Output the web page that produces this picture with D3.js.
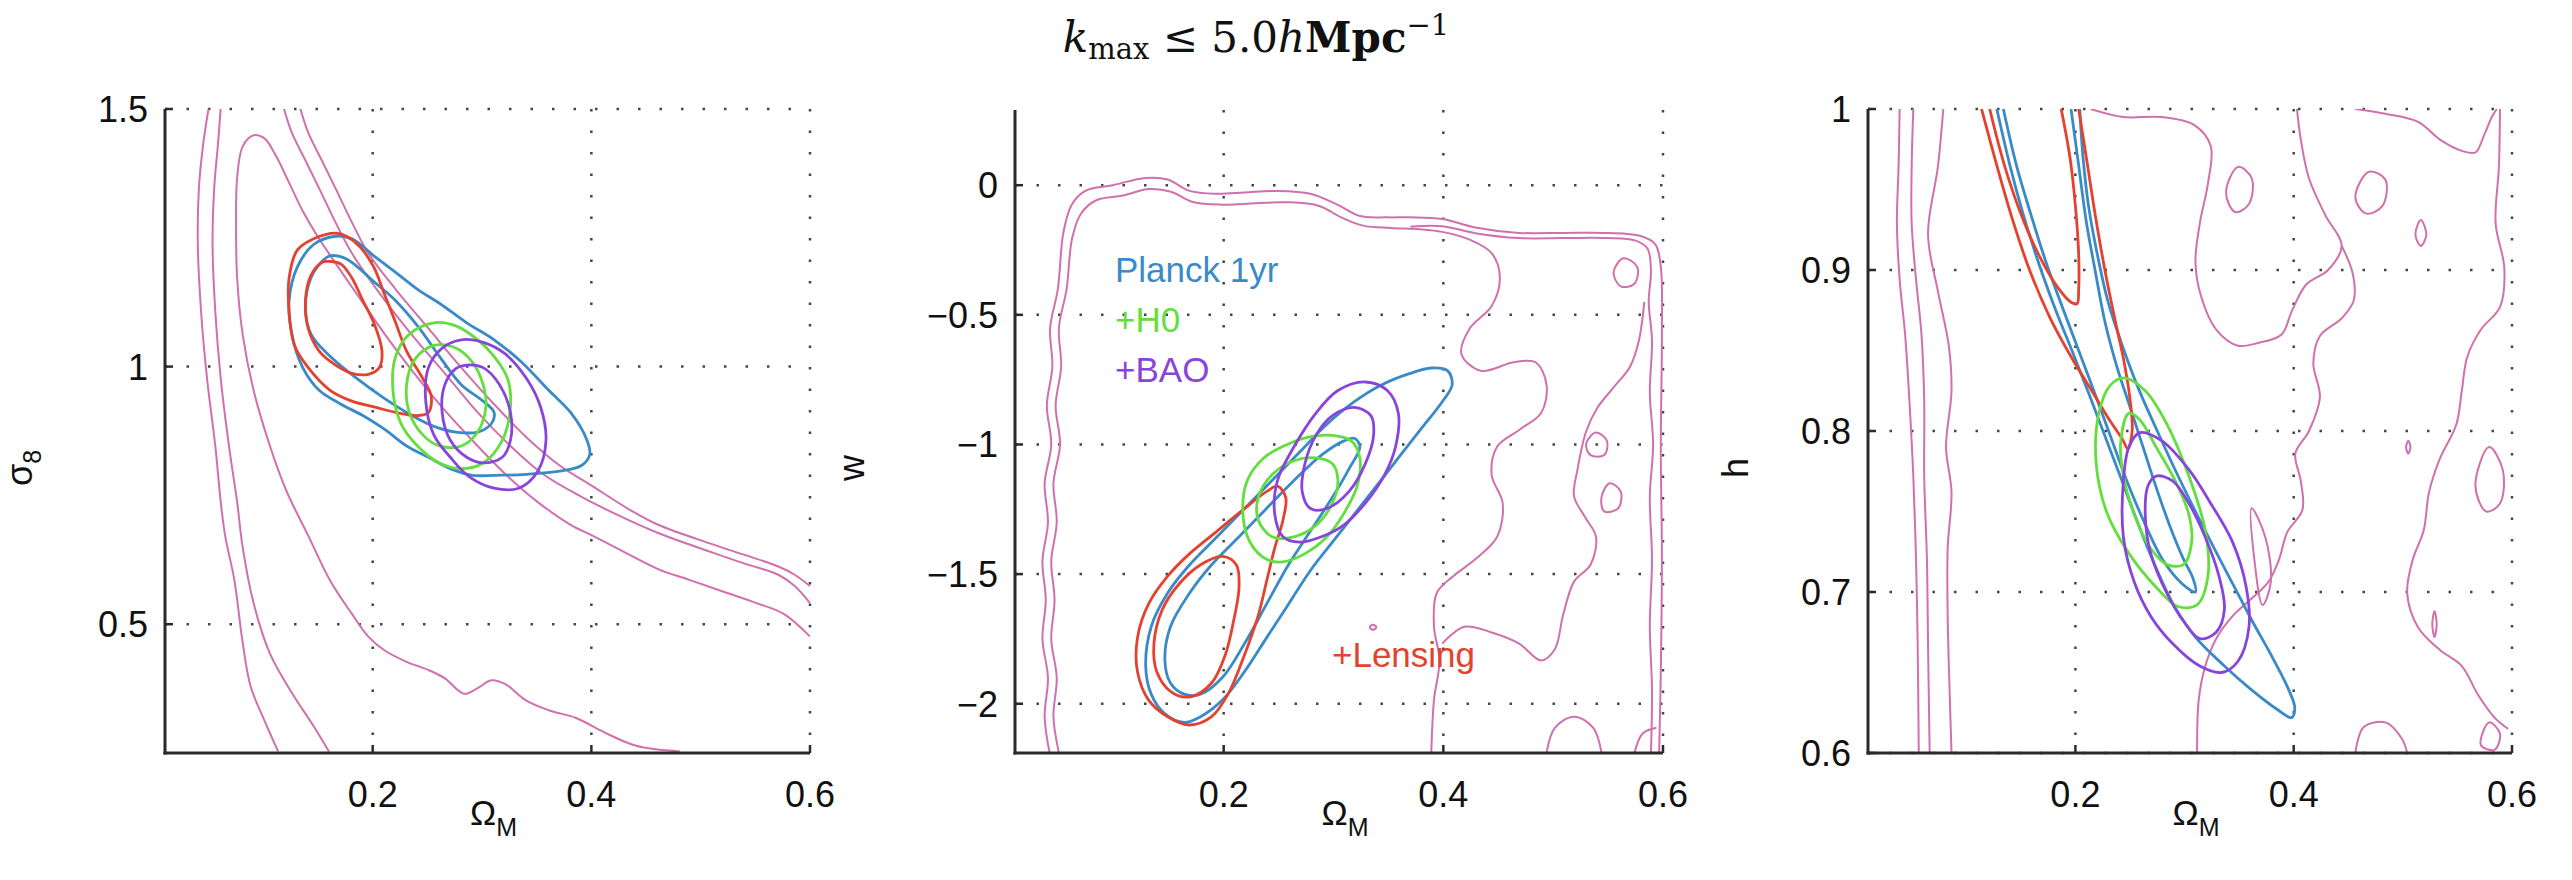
<!DOCTYPE html>
<html>
<head>
<meta charset="utf-8">
<script src="https://cdn.jsdelivr.net/npm/d3@7"></script>
<style>
  body { margin: 0; background: #fff; }
  text { font-family: "Liberation Sans", Arial, sans-serif; fill: #111; }
</style>
</head>
<body>
<svg id="chart" width="2572" height="880"></svg>
<script>
// Shared x axis
const omegaTicks = [0.2, 0.4, 0.6];

// Panel 1: sigma_8 vs Omega_M
const sigma8Ticks = [0.5, 1, 1.5];
const s8PinkA = [[0.05,1.503],[0.045,1.433],[0.041,1.346],[0.04,1.237],[0.043,1.107],[0.0485,0.976],[0.056,0.846],[0.061,0.737],[0.065,0.672],[0.0735,0.585],[0.081,0.465],[0.0885,0.378],[0.101,0.313],[0.1135,0.253]];
const s8PinkB = [[0.061,1.503],[0.0585,1.433],[0.055,1.346],[0.0535,1.237],[0.056,1.107],[0.061,0.976],[0.0685,0.846],[0.076,0.737],[0.081,0.65],[0.091,0.541],[0.106,0.443],[0.126,0.367],[0.146,0.302],[0.16,0.253]];
const s8PinkC = [[0.1335,1.503],[0.141,1.454],[0.1535,1.4],[0.166,1.346],[0.181,1.28],[0.196,1.22],[0.221,1.15],[0.251,1.074],[0.281,0.998],[0.311,0.927],[0.341,0.862],[0.371,0.808],[0.3995,0.77],[0.436,0.721],[0.461,0.693],[0.511,0.655],[0.541,0.634],[0.571,0.612],[0.586,0.596],[0.6,0.574]];
const s8PinkD = [[0.1185,1.503],[0.126,1.454],[0.1385,1.4],[0.151,1.346],[0.166,1.28],[0.181,1.22],[0.206,1.143],[0.236,1.061],[0.266,0.987],[0.296,0.911],[0.326,0.846],[0.356,0.791],[0.386,0.753],[0.421,0.715],[0.461,0.677],[0.511,0.639],[0.541,0.617],[0.571,0.596],[0.586,0.574],[0.6,0.541]];
const s8PinkInner = [[0.481,0.253],[0.441,0.264],[0.411,0.291],[0.386,0.318],[0.361,0.333],[0.341,0.351],[0.321,0.384],[0.3085,0.391],[0.296,0.376],[0.2835,0.365],[0.266,0.395],[0.251,0.411],[0.231,0.427],[0.211,0.449],[0.196,0.476],[0.181,0.52],[0.161,0.585],[0.141,0.672],[0.121,0.759],[0.106,0.846],[0.091,0.954],[0.081,1.063],[0.076,1.172],[0.075,1.28],[0.076,1.367],[0.081,1.427],[0.091,1.449],[0.101,1.443],[0.111,1.411],[0.1235,1.357],[0.136,1.302],[0.151,1.248],[0.1685,1.193],[0.186,1.139],[0.211,1.063],[0.236,0.992],[0.261,0.927],[0.291,0.857],[0.321,0.792],[0.351,0.737],[0.381,0.693],[0.401,0.672],[0.431,0.639],[0.461,0.607],[0.491,0.585],[0.521,0.563],[0.551,0.541],[0.576,0.52],[0.6,0.476]];
const s8BlueOuter = [[0.166,1.253],[0.181,1.248],[0.201,1.215],[0.221,1.183],[0.241,1.15],[0.261,1.123],[0.286,1.085],[0.311,1.052],[0.336,1.009],[0.361,0.954],[0.381,0.911],[0.396,0.857],[0.3985,0.829],[0.391,0.808],[0.371,0.797],[0.341,0.791],[0.311,0.789],[0.291,0.789],[0.271,0.802],[0.251,0.824],[0.231,0.846],[0.211,0.878],[0.191,0.905],[0.171,0.927],[0.151,0.954],[0.136,0.998],[0.126,1.063],[0.1235,1.128],[0.131,1.193],[0.146,1.237]];
const s8BlueInner = [[0.161,1.215],[0.176,1.209],[0.201,1.165],[0.221,1.128],[0.241,1.079],[0.261,1.02],[0.281,0.965],[0.301,0.933],[0.311,0.911],[0.3085,0.889],[0.296,0.873],[0.276,0.873],[0.256,0.884],[0.236,0.905],[0.211,0.938],[0.186,0.976],[0.161,1.02],[0.1435,1.063],[0.1385,1.117],[0.1435,1.172],[0.1535,1.204]];
const s8RedOuter = [[0.166,1.259],[0.176,1.253],[0.1885,1.232],[0.201,1.193],[0.211,1.139],[0.221,1.085],[0.231,1.03],[0.246,0.976],[0.2535,0.943],[0.251,0.911],[0.241,0.905],[0.221,0.911],[0.201,0.922],[0.181,0.933],[0.161,0.954],[0.141,0.998],[0.1285,1.041],[0.1235,1.107],[0.1235,1.172],[0.131,1.226],[0.146,1.248]];
const s8RedInner = [[0.161,1.204],[0.171,1.199],[0.181,1.172],[0.191,1.128],[0.201,1.085],[0.2085,1.03],[0.206,0.998],[0.196,0.985],[0.181,0.987],[0.166,1.003],[0.151,1.03],[0.141,1.074],[0.1385,1.128],[0.1435,1.177],[0.1535,1.202]];
const s8GreenOuter = [[0.256,1.085],[0.276,1.079],[0.296,1.052],[0.311,1.02],[0.3235,0.976],[0.326,0.922],[0.3185,0.857],[0.301,0.813],[0.281,0.802],[0.261,0.813],[0.241,0.846],[0.226,0.889],[0.2185,0.954],[0.221,1.02],[0.2335,1.063]];
const s8GreenInner = [[0.256,1.041],[0.276,1.036],[0.291,1.009],[0.301,0.965],[0.3035,0.922],[0.296,0.873],[0.281,0.846],[0.261,0.846],[0.246,0.867],[0.2335,0.911],[0.231,0.965],[0.2385,1.014]];
const s8PurpleOuter = [[0.281,1.052],[0.301,1.047],[0.321,1.025],[0.341,0.976],[0.3535,0.922],[0.3585,0.857],[0.351,0.797],[0.3335,0.764],[0.311,0.764],[0.2885,0.786],[0.271,0.824],[0.256,0.867],[0.2485,0.933],[0.251,0.998],[0.2635,1.036]];
const s8PurpleInner = [[0.286,1.003],[0.301,0.998],[0.316,0.965],[0.326,0.911],[0.326,0.857],[0.3185,0.824],[0.301,0.813],[0.286,0.824],[0.271,0.857],[0.2635,0.911],[0.266,0.965],[0.276,0.996]];

// Panel 2: w vs Omega_M
const wTicks = [-2, -1.5, -1, -0.5, 0];
const wPinkOuter = [[0.0415,-2.19],[0.037,-2.05],[0.04,-1.9],[0.035,-1.75],[0.038,-1.6],[0.035,-1.45],[0.04,-1.3],[0.037,-1.15],[0.043,-1.0],[0.039,-0.85],[0.044,-0.7],[0.042,-0.55],[0.049,-0.401],[0.054,-0.184],[0.0615,-0.076],[0.074,-0.022],[0.099,0.0],[0.129,0.028],[0.149,0.022],[0.169,-0.022],[0.194,-0.033],[0.219,-0.028],[0.249,-0.022],[0.279,-0.033],[0.304,-0.076],[0.324,-0.119],[0.349,-0.124],[0.369,-0.124],[0.399,-0.13],[0.429,-0.163],[0.469,-0.184],[0.509,-0.184],[0.549,-0.184],[0.579,-0.195],[0.593,-0.228],[0.598,-0.315],[0.599,-0.575],[0.598,-1.009],[0.599,-1.443],[0.598,-1.876],[0.5965,-2.19]];
const wPinkMiddle = [[0.37,-0.16],[0.399,-0.158],[0.429,-0.185],[0.469,-0.204],[0.509,-0.204],[0.549,-0.204],[0.575,-0.214],[0.586,-0.245],[0.589,-0.33],[0.587,-0.45],[0.59,-0.6],[0.588,-0.8],[0.591,-1.0],[0.588,-1.2],[0.59,-1.443],[0.588,-1.7],[0.59,-1.95],[0.589,-2.19]];
const wPinkInner = [[0.05,-2.19],[0.045,-2.05],[0.048,-1.9],[0.043,-1.75],[0.046,-1.6],[0.043,-1.45],[0.048,-1.3],[0.045,-1.15],[0.051,-1.0],[0.047,-0.85],[0.052,-0.7],[0.05,-0.55],[0.057,-0.401],[0.062,-0.205],[0.07,-0.11],[0.084,-0.058],[0.108,-0.04],[0.132,-0.015],[0.152,-0.025],[0.172,-0.065],[0.199,-0.075],[0.229,-0.07],[0.259,-0.066],[0.287,-0.08],[0.307,-0.124],[0.327,-0.156],[0.352,-0.165],[0.379,-0.17],[0.399,-0.18],[0.424,-0.21],[0.444,-0.262],[0.4515,-0.358],[0.444,-0.466],[0.424,-0.553],[0.4165,-0.651],[0.434,-0.716],[0.464,-0.683],[0.484,-0.683],[0.494,-0.77],[0.489,-0.879],[0.469,-0.944],[0.449,-1.009],[0.444,-1.117],[0.454,-1.226],[0.449,-1.356],[0.429,-1.443],[0.409,-1.508],[0.394,-1.573],[0.3915,-1.703],[0.3965,-1.833],[0.3915,-1.985],[0.389,-2.19]];
const wPinkLow = [[0.399,-1.768],[0.419,-1.703],[0.444,-1.725],[0.469,-1.768],[0.489,-1.833],[0.5015,-1.79],[0.509,-1.659],[0.519,-1.529],[0.534,-1.464],[0.539,-1.356],[0.529,-1.28],[0.519,-1.2],[0.522,-1.1],[0.53,-0.95],[0.54,-0.86],[0.555,-0.78],[0.57,-0.7],[0.578,-0.6],[0.583,-0.45]];
const wPinkBump1 = [[0.494,-2.19],[0.5015,-2.093],[0.519,-2.05],[0.5365,-2.093],[0.544,-2.19]];
const wPinkBump2 = [[0.574,-2.19],[0.5815,-2.115],[0.594,-2.093]];
const wPinkIsle1 = [[0.564,-0.282],[0.5765,-0.315],[0.574,-0.38],[0.5615,-0.39],[0.555,-0.336]];
const wPinkIsle2 = [[0.539,-0.954],[0.549,-0.987],[0.5465,-1.041],[0.534,-1.041],[0.53,-0.998]];
const wPinkIsle3 = [[0.5515,-1.15],[0.5615,-1.182],[0.559,-1.247],[0.5465,-1.258],[0.544,-1.204]];
const wPinkDot = [[0.336,-1.695],[0.339,-1.705],[0.336,-1.715],[0.333,-1.705]];
const wBlueOuter = [[0.389,-0.705],[0.404,-0.716],[0.408,-0.77],[0.399,-0.835],[0.379,-0.944],[0.359,-1.052],[0.339,-1.161],[0.319,-1.269],[0.299,-1.377],[0.279,-1.486],[0.259,-1.616],[0.239,-1.746],[0.219,-1.876],[0.199,-1.985],[0.179,-2.05],[0.164,-2.072],[0.1465,-2.039],[0.134,-1.963],[0.129,-1.855],[0.134,-1.703],[0.149,-1.573],[0.169,-1.464],[0.194,-1.356],[0.219,-1.247],[0.244,-1.139],[0.269,-1.03],[0.294,-0.922],[0.319,-0.835],[0.344,-0.77],[0.369,-0.727]];
const wBlueInner = [[0.319,-0.976],[0.324,-1.009],[0.314,-1.095],[0.299,-1.204],[0.279,-1.334],[0.259,-1.464],[0.239,-1.616],[0.219,-1.768],[0.199,-1.898],[0.179,-1.963],[0.164,-1.963],[0.1515,-1.92],[0.1465,-1.833],[0.1515,-1.703],[0.169,-1.573],[0.189,-1.464],[0.214,-1.356],[0.239,-1.247],[0.264,-1.139],[0.289,-1.041],[0.309,-0.987]];
const wRedOuter = [[0.249,-1.161],[0.2565,-1.204],[0.254,-1.291],[0.2465,-1.399],[0.239,-1.529],[0.2315,-1.659],[0.219,-1.811],[0.204,-1.963],[0.189,-2.05],[0.169,-2.082],[0.149,-2.05],[0.1315,-1.985],[0.1215,-1.876],[0.1215,-1.746],[0.1315,-1.616],[0.149,-1.508],[0.169,-1.421],[0.194,-1.334],[0.219,-1.247],[0.239,-1.182]];
const wRedInner = [[0.199,-1.432],[0.2115,-1.464],[0.214,-1.551],[0.209,-1.681],[0.2015,-1.811],[0.189,-1.92],[0.169,-1.974],[0.1515,-1.952],[0.139,-1.876],[0.1365,-1.768],[0.144,-1.638],[0.159,-1.54],[0.179,-1.464]];
const wGreenOuter = [[0.299,-0.965],[0.3165,-0.987],[0.324,-1.052],[0.3215,-1.161],[0.309,-1.269],[0.294,-1.356],[0.274,-1.421],[0.254,-1.453],[0.239,-1.443],[0.224,-1.377],[0.2175,-1.269],[0.2215,-1.139],[0.2365,-1.052],[0.259,-0.998],[0.279,-0.97]];
const wGreenInner = [[0.284,-1.052],[0.299,-1.074],[0.304,-1.139],[0.299,-1.226],[0.284,-1.312],[0.264,-1.356],[0.244,-1.356],[0.2315,-1.291],[0.2315,-1.204],[0.244,-1.117],[0.264,-1.063]];
const wPurpleOuter = [[0.329,-0.759],[0.349,-0.792],[0.359,-0.879],[0.3565,-1.009],[0.3465,-1.117],[0.329,-1.226],[0.309,-1.312],[0.289,-1.356],[0.269,-1.377],[0.254,-1.356],[0.2465,-1.269],[0.249,-1.139],[0.264,-1.009],[0.284,-0.879],[0.304,-0.792]];
const wPurpleInner = [[0.319,-0.857],[0.334,-0.889],[0.3365,-0.965],[0.329,-1.074],[0.314,-1.182],[0.294,-1.247],[0.279,-1.247],[0.2715,-1.182],[0.274,-1.074],[0.284,-0.965],[0.299,-0.889]];

// Panel 3: h vs Omega_M
const hTicks = [0.6, 0.7, 0.8, 0.9, 1];
const hPinkL1 = [[0.039,1.0],[0.038,0.964],[0.0365,0.929],[0.039,0.894],[0.044,0.86],[0.048,0.818],[0.0515,0.772],[0.054,0.72],[0.0555,0.668],[0.0565,0.6]];
const hPinkL2 = [[0.0515,1.0],[0.05,0.964],[0.05,0.929],[0.054,0.894],[0.059,0.86],[0.0615,0.818],[0.0615,0.772],[0.064,0.72],[0.065,0.668],[0.0665,0.6]];
const hPinkL3 = [[0.079,1.0],[0.074,0.964],[0.065,0.922],[0.074,0.887],[0.084,0.853],[0.0865,0.825],[0.0815,0.79],[0.0865,0.762],[0.083,0.727],[0.083,0.685],[0.085,0.633],[0.0865,0.6]];
const hPinkTop = [[0.214,1.0],[0.244,0.995],[0.279,0.995],[0.309,0.99],[0.324,0.977],[0.3215,0.954],[0.314,0.929],[0.31,0.905],[0.315,0.884],[0.329,0.863],[0.349,0.853],[0.369,0.855],[0.389,0.86],[0.398,0.874],[0.4115,0.891],[0.4315,0.9],[0.444,0.915],[0.429,0.934],[0.414,0.957],[0.4065,0.981],[0.403,1.0]];
const hPinkMid = [[0.444,0.915],[0.454,0.898],[0.455,0.881],[0.444,0.87],[0.424,0.859],[0.418,0.842],[0.424,0.821],[0.414,0.8],[0.4015,0.786],[0.4065,0.769],[0.408,0.751],[0.394,0.737],[0.3865,0.72],[0.3765,0.706],[0.3615,0.696],[0.344,0.685],[0.329,0.671],[0.319,0.654],[0.313,0.633],[0.3115,0.6]];
const hPinkTopRight = [[0.4565,1.0],[0.484,0.997],[0.514,0.992],[0.534,0.981],[0.554,0.974],[0.5665,0.973],[0.574,0.983],[0.5815,0.995],[0.586,1.0]];
const hPinkRight = [[0.589,1.0],[0.588,0.964],[0.585,0.929],[0.593,0.901],[0.589,0.877],[0.5715,0.863],[0.559,0.846],[0.554,0.825],[0.549,0.804],[0.534,0.783],[0.524,0.762],[0.519,0.738],[0.509,0.72],[0.504,0.699],[0.514,0.678],[0.534,0.664],[0.554,0.654],[0.569,0.636],[0.584,0.622],[0.5965,0.615]];
const hPinkBump = [[0.4565,0.6],[0.464,0.616],[0.484,0.619],[0.499,0.609],[0.504,0.6]];
const hPinkIsle1 = [[0.349,0.964],[0.3615,0.957],[0.359,0.941],[0.3465,0.936],[0.338,0.948]];
const hPinkIsle2 = [[0.469,0.961],[0.484,0.956],[0.4815,0.94],[0.4665,0.935],[0.4565,0.945]];
const hPinkIsle3 = [[0.5165,0.931],[0.5215,0.922],[0.5165,0.915],[0.5115,0.922]];
const hPinkIsle4 = [[0.579,0.79],[0.5915,0.776],[0.589,0.755],[0.5765,0.75],[0.5665,0.766]];
const hPinkIsle5 = [[0.579,0.619],[0.589,0.612],[0.584,0.602],[0.5715,0.605]];
const hPinkIsle6 = [[0.3615,0.752],[0.374,0.734],[0.379,0.706],[0.3715,0.692],[0.364,0.72]];
const hPinkDot1 = [[0.505,0.794],[0.507,0.79],[0.505,0.786],[0.503,0.79]];
const hPinkDot2 = [[0.529,0.688],[0.531,0.68],[0.529,0.672],[0.527,0.68]];
const hRedOuter = [[0.114,1.0],[0.128,0.965],[0.143,0.93],[0.158,0.9],[0.177,0.87],[0.197,0.845],[0.215,0.825],[0.232,0.806],[0.243,0.795],[0.248,0.789],[0.252,0.8],[0.25,0.82],[0.244,0.845],[0.236,0.87],[0.227,0.9],[0.218,0.935],[0.21,0.97],[0.203,1.0]];
const hRedInner = [[0.1215,1.0],[0.135,0.965],[0.15,0.935],[0.166,0.91],[0.183,0.89],[0.196,0.88],[0.2015,0.879],[0.203,0.888],[0.203,0.91],[0.2,0.94],[0.195,0.97],[0.187,1.0]];
const hBlueOuter = [[0.128,1.0],[0.14,0.965],[0.152,0.935],[0.166,0.905],[0.182,0.875],[0.198,0.848],[0.213,0.822],[0.227,0.797],[0.241,0.772],[0.256,0.745],[0.272,0.718],[0.29,0.692],[0.31,0.672],[0.335,0.655],[0.36,0.64],[0.385,0.627],[0.398,0.622],[0.401,0.628],[0.395,0.64],[0.38,0.66],[0.362,0.682],[0.345,0.704],[0.328,0.726],[0.31,0.75],[0.292,0.775],[0.275,0.8],[0.258,0.826],[0.243,0.853],[0.23,0.88],[0.22,0.91],[0.212,0.94],[0.207,0.97],[0.204,1.0]];
const hBlueInner = [[0.134,1.0],[0.146,0.965],[0.159,0.935],[0.173,0.905],[0.188,0.877],[0.203,0.85],[0.218,0.823],[0.232,0.797],[0.246,0.771],[0.262,0.745],[0.28,0.72],[0.298,0.705],[0.31,0.7],[0.308,0.708],[0.298,0.722],[0.286,0.742],[0.274,0.765],[0.262,0.79],[0.25,0.815],[0.238,0.84],[0.227,0.868],[0.218,0.9],[0.21,0.93],[0.203,0.965],[0.196,1.0]];
const hGreenOuter = [[0.244,0.833],[0.264,0.825],[0.284,0.804],[0.304,0.772],[0.319,0.738],[0.3215,0.71],[0.3115,0.692],[0.294,0.691],[0.274,0.703],[0.249,0.724],[0.229,0.749],[0.219,0.78],[0.2215,0.811],[0.2315,0.828]];
const hGreenInner = [[0.249,0.811],[0.259,0.807],[0.274,0.79],[0.2915,0.769],[0.304,0.748],[0.3065,0.731],[0.299,0.717],[0.284,0.717],[0.269,0.727],[0.254,0.748],[0.244,0.772],[0.2415,0.793]];
const hPurpleOuter = [[0.259,0.799],[0.279,0.794],[0.304,0.776],[0.324,0.755],[0.344,0.731],[0.3565,0.703],[0.359,0.678],[0.349,0.657],[0.334,0.65],[0.314,0.654],[0.289,0.668],[0.269,0.685],[0.254,0.706],[0.244,0.734],[0.244,0.769],[0.249,0.79]];
const hPurpleInner = [[0.274,0.772],[0.289,0.769],[0.304,0.755],[0.319,0.734],[0.3315,0.71],[0.3365,0.689],[0.329,0.675],[0.314,0.671],[0.299,0.682],[0.284,0.699],[0.269,0.724],[0.264,0.748],[0.2665,0.766]];

// Legend labels
const legendItems = [
  { label: 'Planck 1yr', color: 'blue' },
  { label: '+H0', color: 'green' },
  { label: '+BAO', color: 'purple' },
];
const lensingLabel = '+Lensing';

const colors = {
  pink: '#d070ae',
  blue: '#3a8ac8',
  red: '#e4422f',
  green: '#62df3c',
  purple: '#8845dc',
};

const svg = d3.select('#chart');

// Each panel: box, y range and the contours drawn into it
const panels = [
  {
    left: 165, right: 810, top: 109, bottom: 753,
    yDomain: [0.25, 1.5], yTicks: sigma8Ticks, yFormat: d => String(d),
    yLabel: ['σ', '8'], yLabelX: 32,
    lines: [
      [s8PinkA, 'pink'], [s8PinkB, 'pink'], [s8PinkC, 'pink'], [s8PinkD, 'pink'], [s8PinkInner, 'pink'],
    ],
    loops: [
      [s8BlueOuter, 'blue'], [s8BlueInner, 'blue'], [s8RedOuter, 'red'], [s8RedInner, 'red'],
      [s8GreenOuter, 'green'], [s8GreenInner, 'green'], [s8PurpleOuter, 'purple'], [s8PurpleInner, 'purple'],
    ],
  },
  {
    left: 1015, right: 1663, top: 110, bottom: 753,
    yDomain: [-2.19, 0.29], yTicks: wTicks, yFormat: d => (d < 0 ? '\u2212' + Math.abs(d) : String(d)),
    yLabel: ['w', ''], yLabelX: 864,
    lines: [
      [wPinkOuter, 'pink'], [wPinkMiddle, 'pink'], [wPinkInner, 'pink'], [wPinkLow, 'pink'],
      [wPinkBump1, 'pink'], [wPinkBump2, 'pink'],
    ],
    loops: [
      [wPinkIsle1, 'pink'], [wPinkIsle2, 'pink'], [wPinkIsle3, 'pink'], [wPinkDot, 'pink'],
      [wBlueOuter, 'blue'], [wBlueInner, 'blue'], [wRedOuter, 'red'], [wRedInner, 'red'],
      [wGreenOuter, 'green'], [wGreenInner, 'green'], [wPurpleOuter, 'purple'], [wPurpleInner, 'purple'],
    ],
  },
  {
    left: 1868, right: 2512, top: 109, bottom: 753,
    yDomain: [0.6, 1.0], yTicks: hTicks, yFormat: d => String(d),
    yLabel: ['h', ''], yLabelX: 1748,
    lines: [
      [hPinkL1, 'pink'], [hPinkL2, 'pink'], [hPinkL3, 'pink'], [hPinkTop, 'pink'], [hPinkMid, 'pink'],
      [hPinkTopRight, 'pink'], [hPinkRight, 'pink'], [hPinkBump, 'pink'],
      [hBlueOuter, 'blue'], [hBlueInner, 'blue'], [hRedOuter, 'red'], [hRedInner, 'red'],
    ],
    loops: [
      [hPinkIsle1, 'pink'], [hPinkIsle2, 'pink'], [hPinkIsle3, 'pink'], [hPinkIsle4, 'pink'],
      [hPinkIsle5, 'pink'], [hPinkIsle6, 'pink'], [hPinkDot1, 'pink'], [hPinkDot2, 'pink'],
      [hGreenOuter, 'green'], [hGreenInner, 'green'], [hPurpleOuter, 'purple'], [hPurpleInner, 'purple'],
    ],
  },
];

const tickFont = 36;

panels.forEach((p, i) => {
  const x = d3.scaleLinear().domain([0.01, 0.6]).range([p.left, p.right]);
  const y = d3.scaleLinear().domain(p.yDomain).range([p.bottom, p.top]);
  const g = svg.append('g');

  // Dotted grid
  g.selectAll('.gx').data(omegaTicks).join('line')
    .attr('x1', d => x(d)).attr('x2', d => x(d))
    .attr('y1', p.top).attr('y2', p.bottom)
    .attr('stroke', '#444').attr('stroke-width', 2.5)
    .attr('stroke-dasharray', '2.5,19');
  g.selectAll('.gy').data(p.yTicks).join('line')
    .attr('y1', d => y(d)).attr('y2', d => y(d))
    .attr('x1', p.left).attr('x2', p.right)
    .attr('stroke', '#444').attr('stroke-width', 2.5)
    .attr('stroke-dasharray', '2.5,19');

  // Contours, clipped to the axes box
  const clipId = `clip${i}`;
  svg.append('clipPath').attr('id', clipId).append('rect')
    .attr('x', p.left).attr('y', p.top)
    .attr('width', p.right - p.left).attr('height', p.bottom - p.top);
  const plot = g.append('g').attr('clip-path', `url(#${clipId})`);

  const openLine = d3.line().x(d => x(d[0])).y(d => y(d[1])).curve(d3.curveCatmullRom.alpha(0.5));
  const closedLine = d3.line().x(d => x(d[0])).y(d => y(d[1])).curve(d3.curveCatmullRomClosed.alpha(0.5));

  const drawAll = (list, gen) => list.forEach(([pts, c]) => {
    plot.append('path')
      .attr('d', gen(pts))
      .attr('fill', 'none')
      .attr('stroke', colors[c])
      .attr('stroke-width', c === 'pink' ? 2 : 2.8)
      .attr('stroke-linejoin', 'round');
  });
  // pink first, coloured on top
  drawAll(p.lines.filter(l => l[1] === 'pink'), openLine);
  drawAll(p.loops.filter(l => l[1] === 'pink'), closedLine);
  drawAll(p.lines.filter(l => l[1] !== 'pink'), openLine);
  drawAll(p.loops.filter(l => l[1] !== 'pink'), closedLine);

  // Axes: left and bottom
  g.append('line').attr('x1', p.left).attr('x2', p.left).attr('y1', p.top).attr('y2', p.bottom + 1.5)
    .attr('stroke', '#2a2a2a').attr('stroke-width', 3);
  g.append('line').attr('x1', p.left - 1.5).attr('x2', p.right).attr('y1', p.bottom).attr('y2', p.bottom)
    .attr('stroke', '#2a2a2a').attr('stroke-width', 3);

  // Inward tick marks
  g.selectAll('.tx').data(omegaTicks).join('line')
    .attr('x1', d => x(d)).attr('x2', d => x(d))
    .attr('y1', p.bottom).attr('y2', p.bottom - 8)
    .attr('stroke', '#2a2a2a').attr('stroke-width', 2.5);
  g.selectAll('.ty').data(p.yTicks).join('line')
    .attr('y1', d => y(d)).attr('y2', d => y(d))
    .attr('x1', p.left).attr('x2', p.left + 8)
    .attr('stroke', '#2a2a2a').attr('stroke-width', 2.5);

  // Tick labels
  g.selectAll('.lx').data(omegaTicks).join('text')
    .attr('x', d => x(d)).attr('y', p.bottom + 54)
    .attr('text-anchor', 'middle').attr('font-size', tickFont)
    .text(d => d3.format('.1f')(d));
  g.selectAll('.ly').data(p.yTicks).join('text')
    .attr('x', p.left - 17).attr('y', d => y(d) + 13)
    .attr('text-anchor', 'end').attr('font-size', tickFont)
    .text(p.yFormat);

  // Axis labels
  const xl = g.append('text')
    .attr('x', (p.left + p.right) / 2 + 6).attr('y', p.bottom + 72)
    .attr('text-anchor', 'middle').attr('font-size', 35);
  xl.append('tspan').text('Ω');
  xl.append('tspan').attr('font-size', 25).attr('dy', 11).text('M');

  const yl = g.append('text')
    .attr('transform', `translate(${p.yLabelX},468) rotate(-90)`)
    .attr('text-anchor', 'middle').attr('font-size', 36);
  yl.append('tspan').text(p.yLabel[0]);
  if (p.yLabel[1]) yl.append('tspan').attr('font-size', 25).attr('dy', 9).text(p.yLabel[1]);

  if (i === 1) {
    legendItems.forEach((item, k) => {
      g.append('text')
        .attr('x', 1115).attr('y', 282 + k * 50)
        .attr('font-size', 35)
        .style('fill', colors[item.color])
        .text(item.label);
    });
    g.append('text')
      .attr('x', 1332).attr('y', 667)
      .attr('font-size', 35)
      .style('fill', colors.red)
      .text(lensingLabel);
  }
});

// Title
const title = svg.append('text')
  .attr('x', 1256).attr('y', 52)
  .attr('text-anchor', 'middle')
  .style('font-family', '"DejaVu Serif", "Liberation Serif", serif')
  .attr('font-size', 42);
title.append('tspan').attr('font-style', 'italic').text('k');
title.append('tspan').attr('font-size', 29).attr('dy', 7).text('max');
title.append('tspan').attr('dy', -7).text(' \u2264 5.0');
title.append('tspan').attr('font-style', 'italic').text('h');
title.append('tspan').attr('font-weight', 'bold').text('Mpc');
title.append('tspan').attr('font-size', 29).attr('dy', -17).text('\u22121');
</script>
</body>
</html>
